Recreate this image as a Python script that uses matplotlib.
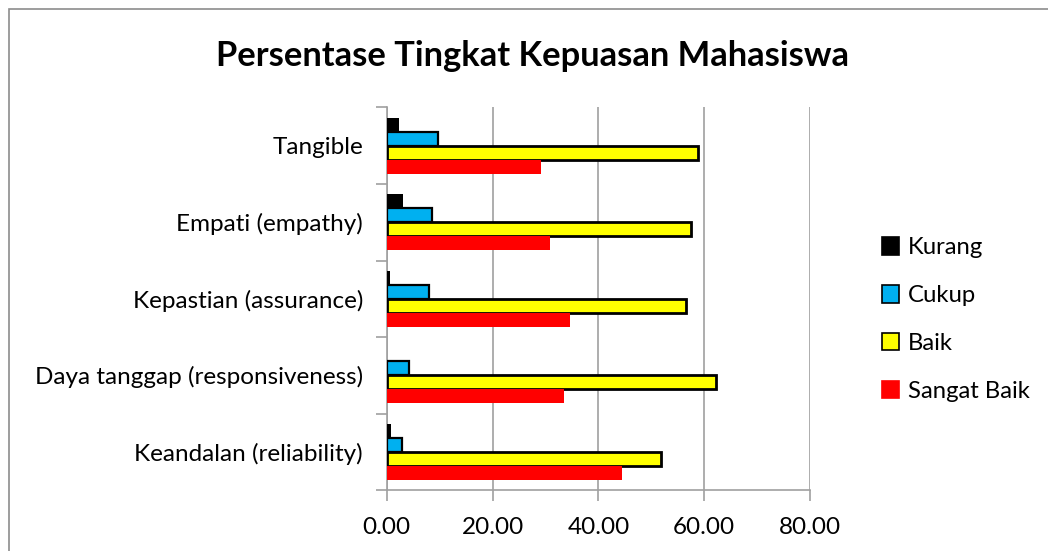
import matplotlib
matplotlib.use("Agg")
import matplotlib.pyplot as plt
from matplotlib.patches import Rectangle, Patch
from matplotlib.ticker import FixedLocator
import numpy as np

plt.rcParams['font.family'] = ['Lato', 'DejaVu Sans']

categories = ["Keandalan (reliability)", "Daya tanggap (responsiveness)",
              "Kepastian (assurance)", "Empati (empathy)", "Tangible"]
series_names = ["Kurang", "Cukup", "Baik", "Sangat Baik"]
kurang = [0.75, 0.0, 0.6, 3.0, 2.4]
cukup = [2.9, 4.3, 7.9, 8.5, 9.7]
baik = [51.8, 62.3, 56.6, 57.6, 58.8]
sangat_baik = [44.5, 33.5, 34.7, 30.8, 29.1]
x_ticks = [0, 20, 40, 60, 80]

W, H = 1048, 551
fig = plt.figure(figsize=(W / 100, H / 100), dpi=100)
fig.patches.append(Rectangle((8.5 / W, -0.1), 1.2, 1.1 - 9.3 / H, transform=fig.transFigure,
                             fill=False, edgecolor="#8c8c8c", linewidth=1.2, zorder=0))

ax = fig.add_axes([386.7 / W, (H - 490.3) / H, (810 - 386.7) / W, (490.3 - 107.3) / H])

y = np.arange(len(categories))
h = 0.183
styles = [
    (kurang, "#000000", "none", 0),
    (cukup, "#00B0F0", "#000000", 1.6),
    (baik, "#FFFF00", "#000000", 2.0),
    (sangat_baik, "#FF0000", "none", 0),
]
offsets = [1.5 * h, 0.5 * h, -0.5 * h, -1.5 * h]
handles = []
for (vals, fc, ec, lw), off, name in zip(styles, offsets, series_names):
    ax.barh(y + off, vals, height=h, color=fc, edgecolor=ec, linewidth=lw, zorder=3)
    handles.append(Patch(facecolor=fc, edgecolor=ec if ec != "none" else fc, linewidth=1.2, label=name))

ax.set_xlim(0, 80)
ax.set_ylim(-0.5, len(categories) - 0.5)
ax.set_xticks(x_ticks)
ax.set_xticklabels([f"{v:.2f}" for v in x_ticks], fontsize=17.5)
ax.tick_params(axis="x", length=8, width=1.2, color="#a0a0a0", pad=11)
ax.xaxis.grid(True, color="#a0a0a0", linewidth=1.2, zorder=0)
ax.set_axisbelow(True)

ax.set_yticks(y)
ax.set_yticklabels(categories, fontsize=17.5)
ax.tick_params(axis="y", which="major", length=0, pad=17)
ax.yaxis.set_minor_locator(FixedLocator(np.arange(-0.5, len(categories), 1.0)))
ax.tick_params(axis="y", which="minor", length=8, color="#a0a0a0", width=1.2)

for s in ["top", "right"]:
    ax.spines[s].set_visible(False)
for s in ["left", "bottom"]:
    ax.spines[s].set_color("#a0a0a0")
    ax.spines[s].set_linewidth(1.2)

fig.text(533 / W, 1 - 56 / H, "Persentase Tingkat Kepuasan Mahasiswa", ha="center", va="center",
         fontsize=24.8, fontweight="bold")

fig.legend(handles=handles, loc="center left", bbox_to_anchor=(872 / W, 1 - 319.5 / H),
           frameon=False, fontsize=17.2, handlelength=0.75, handleheight=0.75,
           handletextpad=0.35, labelspacing=1.12, borderaxespad=0)

fig.savefig("out.png", dpi=100)
